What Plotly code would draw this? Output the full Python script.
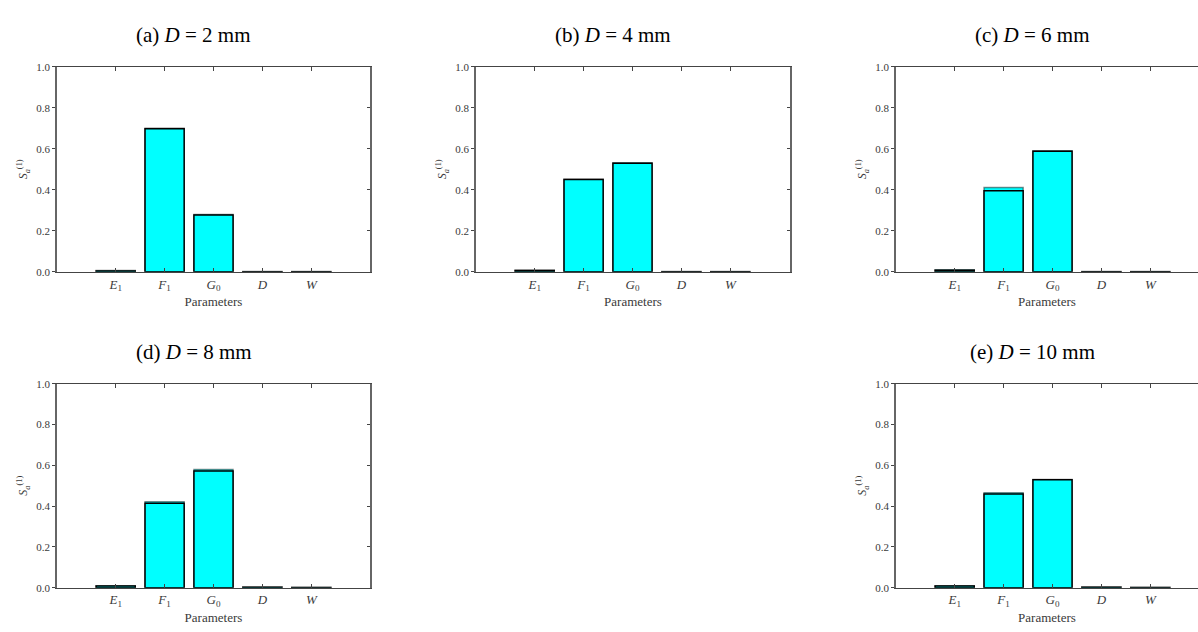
import plotly.graph_objects as go

# Parameter categories and their axis labels
params = ["E1", "F1", "G0", "D", "W"]
param_ticks = ["<i>E</i><sub>1</sub>", "<i>F</i><sub>1</sub>", "<i>G</i><sub>0</sub>",
               "<i>D</i>", "<i>W</i>"]
ytick_vals = [0.0, 0.2, 0.4, 0.6, 0.8, 1.0]

# Panel titles (one per diameter)
panel_titles = ["(a) <i>D</i> = 2 mm", "(b) <i>D</i> = 4 mm", "(c) <i>D</i> = 6 mm",
                "(d) <i>D</i> = 8 mm", "(e) <i>D</i> = 10 mm"]

# First-order sensitivity indices, two overlaid estimates per panel
s_back_2mm = [0.006, 0.700, 0.280, 0.002, 0.002]
s_front_2mm = [0.004, 0.698, 0.277, 0.001, 0.001]
s_back_4mm = [0.008, 0.452, 0.532, 0.002, 0.002]
s_front_4mm = [0.006, 0.450, 0.530, 0.001, 0.001]
s_back_6mm = [0.010, 0.411, 0.591, 0.002, 0.002]
s_front_6mm = [0.008, 0.396, 0.588, 0.001, 0.001]
s_back_8mm = [0.010, 0.421, 0.579, 0.004, 0.001]
s_front_8mm = [0.008, 0.414, 0.572, 0.003, 0.001]
s_back_10mm = [0.010, 0.466, 0.531, 0.004, 0.001]
s_front_10mm = [0.008, 0.460, 0.529, 0.003, 0.001]

series_back = [s_back_2mm, s_back_4mm, s_back_6mm, s_back_8mm, s_back_10mm]
series_front = [s_front_2mm, s_front_4mm, s_front_6mm, s_front_8mm, s_front_10mm]

W, H = 1198, 632
PX_PER_UNIT = 313 / 6.4  # plot width / category span

# Panel frames in pixels: (left, right, top, bottom); right edge of the
# third column runs past the page edge and is clipped there.
frames = [
    (57, 370, 62, 271),
    (476, 790, 62, 271),
    (896, 1209, 62, 271),
    (57, 370, 385, 593),
    (896, 1209, 385, 593),
]

FONT = "Liberation Serif"
AX_COLOR = "#444444"
TXT = "#3a3a3a"

fig = go.Figure()
layout = dict(
    width=W, height=H, margin=dict(l=0, r=0, t=0, b=0),
    paper_bgcolor="white", plot_bgcolor="white",
    showlegend=False, barmode="overlay", bargap=0.2,
    font=dict(family=FONT, color=TXT),
)

annotations = []
extra_axis = 6
x_pos = list(range(len(params)))

for i, (back, front, title, (l, r, t, b)) in enumerate(
        zip(series_back, series_front, panel_titles, frames), start=1):
    xa = f"x{i}"
    ya = f"y{i}"
    fig.add_trace(go.Bar(x=x_pos, y=back, width=0.8, xaxis=xa, yaxis=ya,
                         marker=dict(color="#00ffff",
                                     line=dict(color="rgba(0,0,0,0.45)", width=1.5))))
    fig.add_trace(go.Bar(x=x_pos, y=front, width=0.8, xaxis=xa, yaxis=ya,
                         marker=dict(color="#00ffff",
                                     line=dict(color="black", width=1.5))))

    clipped = r > W
    r_vis = min(r, W)
    x_hi = -1.2 + (r_vis - l) / PX_PER_UNIT
    dom_x = [l / W, r_vis / W]
    dom_y = [1 - b / H, 1 - t / H]

    layout[f"xaxis{i}"] = dict(
        domain=dom_x, anchor=ya, range=[-1.2, x_hi],
        tickvals=x_pos, ticktext=param_ticks,
        ticks="inside", ticklen=4, tickcolor=AX_COLOR,
        showline=True, linecolor=AX_COLOR, linewidth=1.2, mirror="ticks",
        showgrid=False, zeroline=False,
        tickfont=dict(family=FONT, size=13, color=TXT),
        title=dict(text="Parameters", standoff=4,
                   font=dict(family=FONT, size=13, color=TXT)),
    )
    layout[f"yaxis{i}"] = dict(
        domain=dom_y, anchor=xa, range=[0, 1],
        tickvals=ytick_vals, tickformat=".1f",
        ticks="outside", ticklen=3, tickcolor=AX_COLOR,
        showline=True, linecolor="#666666", linewidth=1.5,
        mirror=False if clipped else True,
        showgrid=False, zeroline=False,
        tickfont=dict(family=FONT, size=11, color=TXT),
        title=dict(text="<i>S</i><sub><i>a</i></sub><sup>(1)</sup>", standoff=6,
                   font=dict(family=FONT, size=12, color=TXT)),
    )

    # right-hand inward ticks on panels whose right border is visible
    if not clipped:
        yname = f"yaxis{extra_axis}"
        layout[yname] = dict(
            overlaying=ya, anchor=xa, side="right", range=[0, 1],
            tickvals=ytick_vals, ticks="inside", ticklen=3, tickcolor=AX_COLOR,
            showticklabels=False, showline=False, showgrid=False, zeroline=False,
        )
        fig.add_trace(go.Scatter(x=[None], y=[None], xaxis=xa, yaxis=f"y{extra_axis}",
                                 mode="markers", hoverinfo="skip"))
        extra_axis += 1

    # panel title, centred over the panel plus its axis label
    cx = (l + min(r, l + 313)) / 2 - 20
    annotations.append(dict(
        text=title, x=cx / W, y=1 - (t - 32) / H, xref="paper", yref="paper",
        xanchor="center", yanchor="middle", showarrow=False,
        font=dict(family=FONT, size=21, color="black"),
    ))

layout["annotations"] = annotations
fig.update_layout(**layout)
fig.write_html("out.html")
